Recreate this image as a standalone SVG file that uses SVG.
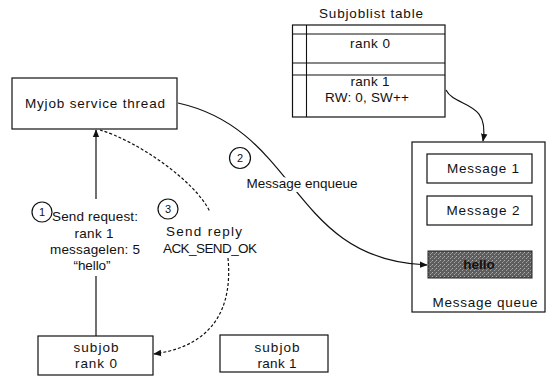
<svg xmlns="http://www.w3.org/2000/svg" width="547" height="383" viewBox="0 0 547 383">
<style>
  text { font-family: "Liberation Sans", Arial, sans-serif; font-size: 13.5px; fill: #111; text-anchor: middle; }
  .box { fill: #fff; stroke: #111; stroke-width: 1.2; }
  .ln { fill: none; stroke: #111; stroke-width: 1.1; }
  .con { fill: none; stroke: #111; stroke-width: 1.2; }
  .dash { stroke-dasharray: 3 2; }
  .num { font-size: 11px; }
  .halo { fill: #fff; stroke: #fff; stroke-width: 8; stroke-linejoin: round; }
</style>
<defs>
  <marker id="arr" viewBox="0 0 10 10" refX="9" refY="5" markerWidth="8" markerHeight="8" markerUnits="userSpaceOnUse" orient="auto">
    <path d="M0,1 L10,5 L0,9 Z" fill="#111"/>
  </marker>
  <pattern id="halftone" width="4" height="4" patternUnits="userSpaceOnUse">
    <rect width="4" height="4" fill="#5e5e5e"/>
    <rect x="0" y="0" width="1" height="1" fill="#b0b0b0"/>
    <rect x="2" y="2" width="1" height="1" fill="#a0a0a0"/>
    <rect x="3" y="1" width="1" height="1" fill="#8a8a8a"/>
  </pattern>
</defs>

<g id="subjoblist-table">
  <text x="371" y="18" textLength="104" lengthAdjust="spacing">Subjoblist table</text>
  <rect class="box" x="292.5" y="25" width="152.5" height="92"/>
  <line class="ln" x1="292.5" y1="34" x2="445" y2="34"/>
  <line class="ln" x1="292.5" y1="63" x2="445" y2="63"/>
  <line class="ln" x1="292.5" y1="75" x2="445" y2="75"/>
  <line class="ln" x1="306.5" y1="25" x2="306.5" y2="117"/>
  <text x="370" y="48" textLength="40" lengthAdjust="spacing">rank 0</text>
  <text x="370" y="86" textLength="39" lengthAdjust="spacing">rank 1</text>
  <text x="367" y="102" textLength="84" lengthAdjust="spacing">RW: 0, SW++</text>
</g>

<g id="myjob-service-thread">
  <rect class="box" x="12" y="78" width="165" height="51"/>
  <text x="95" y="108" textLength="140" lengthAdjust="spacing">Myjob service thread</text>
</g>

<g id="message-queue">
  <rect class="box" x="412" y="142" width="133" height="170"/>
  <rect class="box" x="427" y="154" width="105" height="29"/>
  <text x="483" y="173" textLength="72" lengthAdjust="spacing">Message 1</text>
  <rect class="box" x="427" y="196" width="105" height="29"/>
  <text x="483" y="215" textLength="73" lengthAdjust="spacing">Message 2</text>
  <rect x="428" y="251" width="104" height="27" fill="url(#halftone)" stroke="#222" stroke-width="1"/>
  <text x="479" y="269" fill="#111" font-weight="bold">hello</text>
  <text x="485" y="307" textLength="105" lengthAdjust="spacing">Message queue</text>
</g>

<g id="subjob-rank0">
  <rect class="box" x="38" y="336" width="115" height="39"/>
  <text x="96" y="352" textLength="45" lengthAdjust="spacing">subjob</text>
  <text x="96" y="368" textLength="42" lengthAdjust="spacing">rank 0</text>
</g>

<g id="subjob-rank1">
  <rect class="box" x="220" y="335" width="108" height="37"/>
  <text x="277" y="352" textLength="45" lengthAdjust="spacing">subjob</text>
  <text x="277" y="368" textLength="39" lengthAdjust="spacing">rank 1</text>
</g>

<g id="connectors">
  <path class="con" d="M178,103 C300,130 290,260 427,265" marker-end="url(#arr)"/>
  <path class="con" d="M446,90 C455,108 490,100 483,141" marker-end="url(#arr)"/>
  <path class="con" d="M96,336 V276"/>
  <path class="con" d="M96,199 V130" marker-end="url(#arr)"/>
  <path class="con dash" d="M100,130 C135,140 195,180 210,212"/>
  <path class="con dash" d="M228,258 C232,300 220,345 154,354" marker-end="url(#arr)"/>
</g>

<g id="label-enqueue">
  <circle class="box" cx="240" cy="158" r="10.5"/>
  <text class="num" x="240" y="162">2</text>
  <text class="halo" x="302" y="188" textLength="111" lengthAdjust="spacing">Message enqueue</text>
  <text x="302" y="188" textLength="111" lengthAdjust="spacing">Message enqueue</text>
</g>

<g id="label-request">
  <circle class="box" cx="42" cy="212" r="10"/>
  <text class="num" x="42" y="216">1</text>
  <text x="95" y="221" textLength="86" lengthAdjust="spacing">Send request:</text>
  <text x="94" y="238" textLength="39" lengthAdjust="spacing">rank 1</text>
  <text x="95" y="254" textLength="90" lengthAdjust="spacing">messagelen: 5</text>
  <text x="92" y="270" textLength="37" lengthAdjust="spacing">“hello”</text>
</g>

<g id="label-reply">
  <circle class="box" cx="168" cy="209" r="10"/>
  <text class="num" x="168" y="213">3</text>
  <text x="204" y="236" textLength="76" lengthAdjust="spacing">Send reply</text>
  <text x="210" y="253" textLength="94" lengthAdjust="spacing">ACK_SEND_OK</text>
</g>
</svg>
